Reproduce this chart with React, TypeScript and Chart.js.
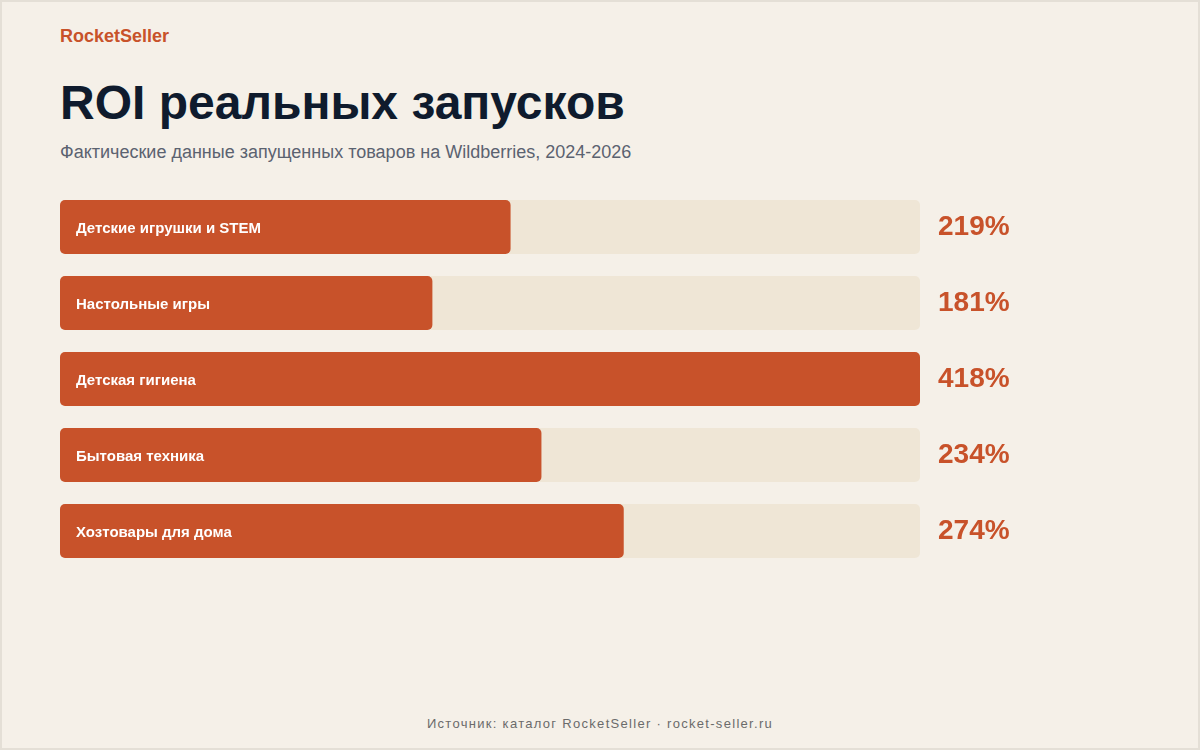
import React, { useEffect, useRef } from "react";
import { Chart, registerables } from "chart.js";

Chart.register(...registerables);

const categories = [
  "Детские игрушки и STEM",
  "Настольные игры",
  "Детская гигиена",
  "Бытовая техника",
  "Хозтовары для дома",
];
const roiValues = [219, 181, 418, 234, 274];
const scaleMax = 418;

const BAR = "#c8522a";
const TRACK = "#efe6d6";
const BG = "#f5f0e8";
const FONT = "'Liberation Sans', Arial, Helvetica, sans-serif";

const barLabelsPlugin = {
  id: "barLabels",
  afterDatasetsDraw(chart: any) {
    const ctx = chart.ctx;
    const meta = chart.getDatasetMeta(0);
    ctx.save();
    meta.data.forEach((bar: any, i: number) => {
      const base = bar.base;
      const y = bar.y;
      ctx.fillStyle = "#ffffff";
      ctx.font = `bold 15px ${FONT}`;
      ctx.textAlign = "left";
      ctx.textBaseline = "alphabetic";
      ctx.fillText(categories[i], base + 16, y + 6);
      ctx.fillStyle = BAR;
      ctx.font = `bold 28px ${FONT}`;
      ctx.fillText(`${roiValues[i]}%`, chart.chartArea.right + 18, y + 8);
    });
    ctx.restore();
  },
};

function RoiChart() {
  const ref = useRef<HTMLCanvasElement | null>(null);
  useEffect(() => {
    if (!ref.current) return;
    const chart = new Chart(ref.current, {
      type: "bar",
      data: {
        labels: categories,
        datasets: [
          {
            data: roiValues,
            backgroundColor: BAR,
            borderRadius: 5,
            borderSkipped: false,
            grouped: false,
            order: 0,
            categoryPercentage: 1,
            barPercentage: 54 / 76,
          },
          {
            data: categories.map(() => scaleMax),
            backgroundColor: TRACK,
            borderRadius: 5,
            borderSkipped: false,
            grouped: false,
            order: 1,
            categoryPercentage: 1,
            barPercentage: 54 / 76,
          },
        ],
      },
      options: {
        indexAxis: "y",
        responsive: false,
        maintainAspectRatio: false,
        animation: false,
        layout: { padding: { left: 0, right: 220, top: 0, bottom: 0 } },
        scales: {
          x: { display: false, min: 0, max: scaleMax },
          y: { display: false },
        },
        plugins: {
          legend: { display: false },
          tooltip: { enabled: false },
        },
      },
      plugins: [barLabelsPlugin],
    } as any);
    return () => chart.destroy();
  }, []);
  return (
    <canvas
      ref={ref}
      width={1080}
      height={380}
      style={{ position: "absolute", left: 60, top: 189, width: 1080, height: 380 }}
    />
  );
}

export default function App() {
  return (
    <div
      style={{
        position: "relative",
        width: 1200,
        height: 750,
        background: BG,
        fontFamily: FONT,
        overflow: "hidden",
      }}
    >
      <style>{"body{margin:0}"}</style>
      <div
        style={{
          position: "absolute",
          left: 60,
          top: 27,
          fontSize: 18,
          lineHeight: 1,
          fontWeight: 700,
          color: BAR,
          whiteSpace: "nowrap",
        }}
      >
        RocketSeller
      </div>
      <div
        style={{
          position: "absolute",
          left: 60,
          top: 79,
          fontSize: 48,
          lineHeight: 1,
          fontWeight: 700,
          color: "#0f1b2d",
          whiteSpace: "nowrap",
        }}
      >
        ROI реальных запусков
      </div>
      <div
        style={{
          position: "absolute",
          left: 60,
          top: 143,
          fontSize: 18,
          lineHeight: 1,
          color: "#5b6270",
          whiteSpace: "nowrap",
        }}
      >
        Фактические данные запущенных товаров на Wildberries, 2024-2026
      </div>
      <RoiChart />
      <div
        style={{
          position: "absolute",
          left: 0,
          width: 1200,
          top: 717,
          fontSize: 13,
          lineHeight: 1,
          letterSpacing: 1.3,
          color: "#6b6b6b",
          textAlign: "center",
          whiteSpace: "nowrap",
        }}
      >
        Источник: каталог RocketSeller · rocket-seller.ru
      </div>
      <div
        style={{
          position: "absolute",
          inset: 0,
          border: "2px solid #e4dfd6",
          boxSizing: "border-box",
          pointerEvents: "none",
        }}
      />
    </div>
  );
}
